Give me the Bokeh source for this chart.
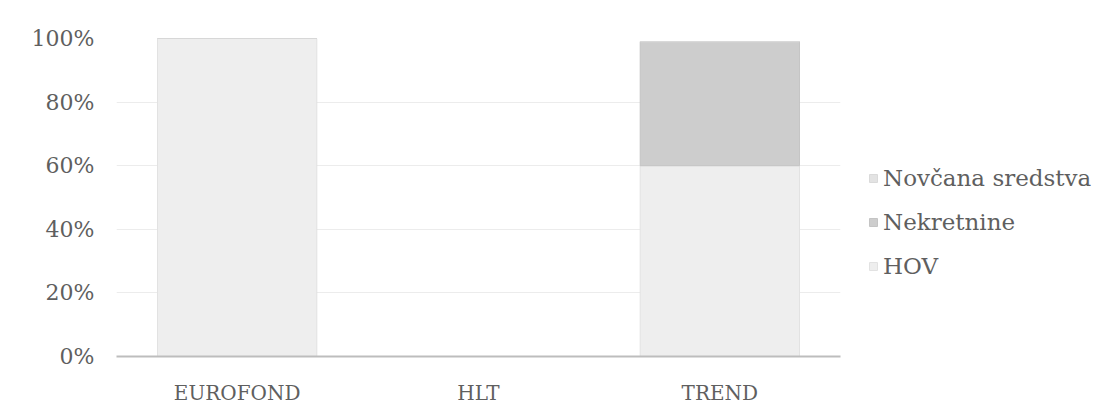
from bokeh.plotting import figure
from bokeh.models import ColumnDataSource, Legend, LegendItem, NumeralTickFormatter, FixedTicker
from bokeh.embed import file_html
from bokeh.resources import INLINE

funds = ["EUROFOND", "HLT", "TREND"]
hov = [1.00, 0.0, 0.60]
nekretnine = [0.0, 0.0, 0.39]
novcana = [0.0, 0.0, 0.0]
series = ["HOV", "Nekretnine", "Novčana sredstva"]
colors = ["#eeeeee", "#cdcdcd", "#e3e3e3"]

src = ColumnDataSource(dict(fund=funds, HOV=hov, Nekretnine=nekretnine, **{"Novčana sredstva": novcana}))

FONT = "DejaVu Serif"
TXT = "#5f5f5f"

p = figure(x_range=funds, y_range=(0, 1.0), frame_width=724, frame_height=318,
           output_backend="svg", toolbar_location=None,
           min_border_left=116, min_border_right=0, min_border_top=38, min_border_bottom=56)
p.outline_line_color = None

r = p.vbar_stack(series, x="fund", width=0.66, source=src, color=colors,
                 line_color=["#e2e2e2", "#c4c4c4", "#dadada"], line_width=1)

p.yaxis.ticker = FixedTicker(ticks=[0, 0.2, 0.4, 0.6, 0.8, 1.0])
p.yaxis.formatter = NumeralTickFormatter(format="0%")
p.yaxis.axis_line_color = None
p.yaxis.major_tick_line_color = None
p.yaxis.minor_tick_line_color = None
p.yaxis.major_label_standoff = 16
p.yaxis.major_label_text_font = FONT
p.yaxis.major_label_text_font_size = "22px"
p.yaxis.major_label_text_color = TXT

p.xaxis.axis_line_color = "#bdbdbd"
p.xaxis.axis_line_width = 2
p.xaxis.major_tick_line_color = None
p.xaxis.minor_tick_line_color = None
p.xaxis.major_label_standoff = 18
p.xaxis.major_label_text_font = FONT
p.xaxis.major_label_text_font_size = "20px"
p.xaxis.major_label_text_color = TXT

p.xgrid.grid_line_color = None
p.ygrid.grid_line_color = "#ececec"
p.ygrid.grid_line_width = 1

items = [LegendItem(label=series[i], renderers=[r[i]]) for i in [2, 1, 0]]
legend = Legend(items=items, location=(28, 77), orientation="vertical",
                label_text_font=FONT, label_text_font_size="23px", label_text_color=TXT,
                glyph_width=10, glyph_height=10, label_standoff=5, spacing=18, label_height=26,
                border_line_color=None, background_fill_alpha=0, padding=0,
                margin=0)
p.add_layout(legend, "right")

open("out.html", "w").write(file_html(p, INLINE))
